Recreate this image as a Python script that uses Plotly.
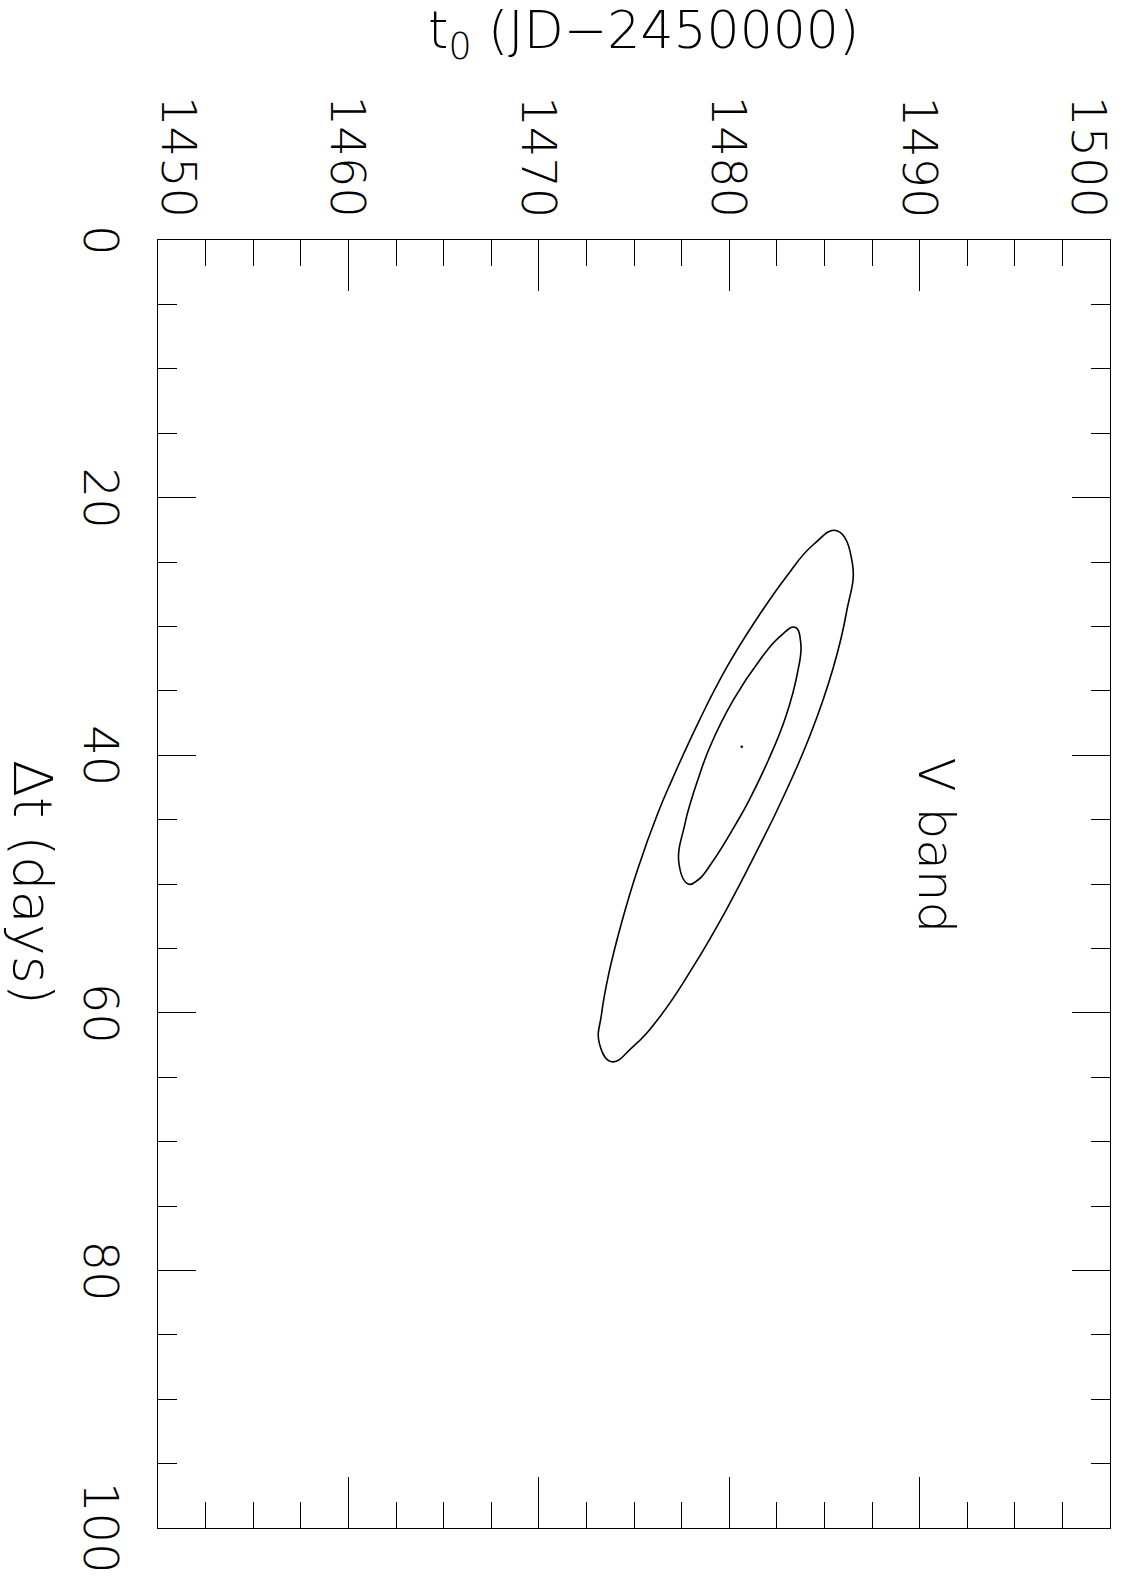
import plotly.graph_objects as go

# ---- data ----
t0_ticks = [1450, 1460, 1470, 1480, 1490, 1500]
dt_ticks = [0, 20, 40, 60, 80, 100]

# outer confidence contour (t0, delta t)
outer_t0 = [1482.77, 1481.57, 1479.84, 1478.11, 1476.36, 1474.95, 1473.83, 1473.18,
            1473.30, 1473.68, 1474.34, 1475.18, 1476.25, 1476.99, 1478.44, 1479.89,
            1481.41, 1483.00, 1484.40, 1485.65, 1486.47, 1486.15, 1485.48, 1484.29,
            1482.77]
outer_dt = [43.48, 47.10, 52.02, 56.42, 60.30, 62.63, 63.80, 62.37,
            60.04, 56.93, 53.05, 48.91, 44.51, 41.93, 37.27, 33.13,
            29.50, 26.14, 23.68, 22.57, 25.10, 28.98, 33.13, 38.30,
            43.48]

# inner confidence contour
inner_t0 = [1481.05, 1480.37, 1479.07, 1478.36, 1477.85, 1477.36, 1477.68, 1478.01,
            1478.35, 1478.99, 1480.22, 1481.61, 1482.66, 1483.46, 1483.76, 1483.58,
            1482.97, 1482.06, 1481.05]
inner_dt = [43.48, 45.29, 48.39, 49.69, 50.00, 48.39, 45.29, 43.48,
            41.93, 39.34, 35.71, 32.61, 30.80, 30.07, 31.31, 33.64,
            37.01, 40.37, 43.48]

best_t0 = [1480.66]
best_dt = [39.34]

band_label = "V band"
band_t0 = 1490.86
band_dt = 47.0

FONT = "DejaVu Sans"
BLACK = "black"

fig = go.Figure()
for xs_, ys_ in ((outer_t0, outer_dt), (inner_t0, inner_dt)):
    fig.add_trace(go.Scatter(x=xs_, y=ys_, mode="lines",
                             line=dict(color=BLACK, width=1.6, shape="spline", smoothing=1.3),
                             showlegend=False, hoverinfo="skip"))
fig.add_trace(go.Scatter(x=best_t0, y=best_dt, mode="markers",
                         marker=dict(color=BLACK, size=2.5),
                         showlegend=False, hoverinfo="skip"))

fig.update_layout(
    width=1122, height=1580,
    margin=dict(l=158, r=12, t=240, b=52),
    paper_bgcolor="white", plot_bgcolor="white",
    showlegend=False,
    xaxis=dict(range=[1450, 1500], side="top", showgrid=False, zeroline=False,
               showline=True, linecolor=BLACK, linewidth=1.2, mirror="ticks",
               ticks="inside", tickmode="array", tickvals=t0_ticks, ticklen=51,
               tickwidth=1, tickcolor=BLACK, showticklabels=False,
               minor=dict(dtick=2.5, tick0=1450, ticks="inside", ticklen=26,
                          tickwidth=1, tickcolor=BLACK, showgrid=False)),
    yaxis=dict(range=[100, 0], showgrid=False, zeroline=False,
               showline=True, linecolor=BLACK, linewidth=1.2, mirror="ticks",
               ticks="inside", tickmode="array", tickvals=dt_ticks, ticklen=38,
               tickwidth=1, tickcolor=BLACK, showticklabels=False,
               minor=dict(dtick=5, tick0=0, ticks="inside", ticklen=19,
                          tickwidth=1, tickcolor=BLACK, showgrid=False)),
)

anns = []
tick_font = dict(family=FONT, size=48, color=BLACK, weight=200)
n = len(t0_ticks)
for i, v in enumerate(t0_ticks):
    if i == 0:
        xa, xs = "left", -9
    elif i == n - 1:
        xa, xs = "right", 9
    else:
        xa, xs = "center", 0
    anns.append(dict(x=v, xref="x", y=1, yref="paper", text=str(v), textangle=90,
                     xanchor=xa, yanchor="bottom", xshift=xs, yshift=20,
                     showarrow=False, font=tick_font))
for v in dt_ticks:
    anns.append(dict(x=0, xref="paper", y=v, yref="y", text=str(v), textangle=90,
                     xanchor="center", yanchor="middle", xshift=-57,
                     showarrow=False, font=tick_font))

anns.append(dict(x=0.5, xref="paper", y=1, yref="paper",
                 text="t<sub>0</sub> (JD\u22122450000)",
                 xanchor="center", yanchor="middle", xshift=9, yshift=206,
                 showarrow=False, font=dict(family=FONT, size=52, color=BLACK, weight=200)))
anns.append(dict(x=0, xref="paper", y=0.5, yref="paper", text="\u0394t (days)",
                 textangle=90, xanchor="center", yanchor="middle", xshift=-125, yshift=2,
                 showarrow=False, font=dict(family=FONT, size=54, color=BLACK, weight=200)))
anns.append(dict(x=band_t0, xref="x", y=band_dt, yref="y", text=band_label, textangle=90,
                 xanchor="center", yanchor="middle", showarrow=False,
                 font=dict(family=FONT, size=50, color=BLACK, weight=200)))

fig.update_layout(annotations=anns)
fig.write_html("out.html")
